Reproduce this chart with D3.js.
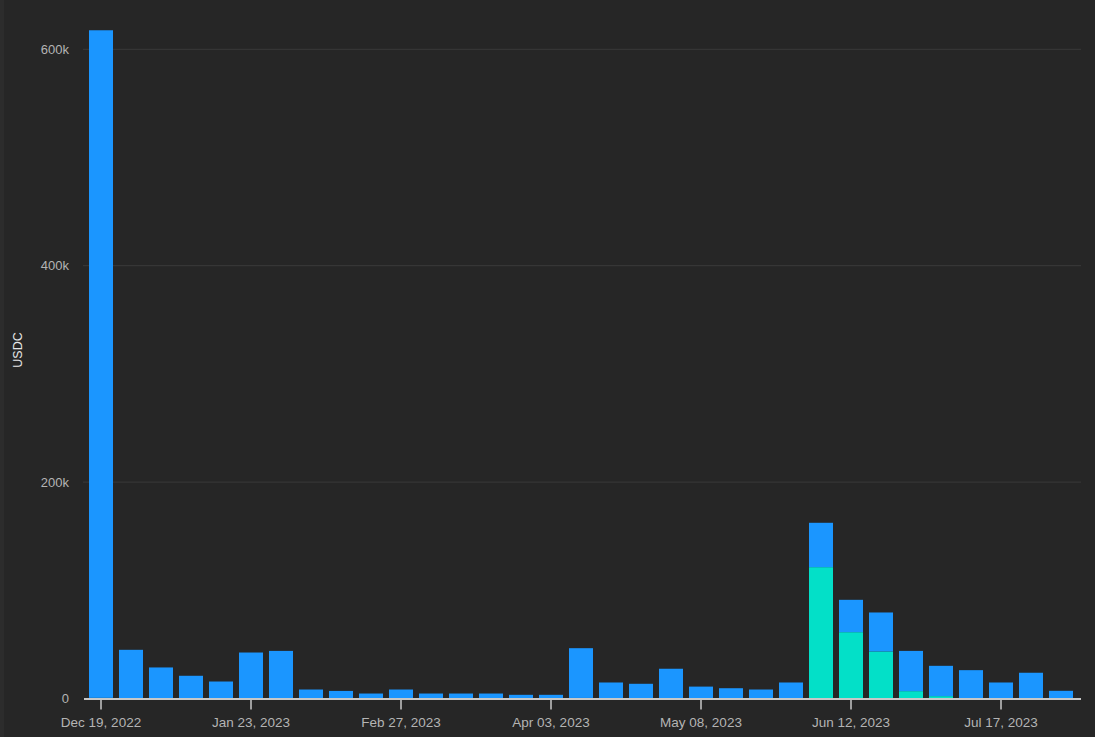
<!DOCTYPE html>
<html>
<head>
<meta charset="utf-8">
<script src="https://cdn.jsdelivr.net/npm/d3@7"></script>
<style>
  html, body { margin: 0; padding: 0; background: #262626; }
  svg { display: block; }
</style>
</head>
<body>
<svg id="chart" width="1095" height="737"></svg>
<script>
const weeks = ["2022-12-19","2022-12-26","2023-01-02","2023-01-09","2023-01-16","2023-01-23","2023-01-30",
  "2023-02-06","2023-02-13","2023-02-20","2023-02-27","2023-03-06","2023-03-13","2023-03-20","2023-03-27",
  "2023-04-03","2023-04-10","2023-04-17","2023-04-24","2023-05-01","2023-05-08","2023-05-15","2023-05-22",
  "2023-05-29","2023-06-05","2023-06-12","2023-06-19","2023-06-26","2023-07-03","2023-07-10","2023-07-17",
  "2023-07-24","2023-07-31"];
// teal series (bottom of stack)
const seriesA = [600,0,0,0,0,0,0,
  0,0,0,0,0,0,0,0,
  0,500,0,0,400,0,0,0,
  0,121400,61300,43500,6800,2200,0,0,
  0,0];
// blue series (top of stack)
const seriesB = [617000,45000,28700,21000,15700,42500,44000,
  8300,7000,4600,8300,4600,4600,4600,3400,
  3400,46000,14800,13600,27100,11000,9500,8300,
  14800,41000,29900,36000,37200,28000,26200,14800,
  23800,7100];
const yTicks = [0,200000,400000,600000];
const xTickLabels = ["Dec 19, 2022","Jan 23, 2023","Feb 27, 2023","Apr 03, 2023","May 08, 2023","Jun 12, 2023","Jul 17, 2023"];
const xTickWeeks = ["2022-12-19","2023-01-23","2023-02-27","2023-04-03","2023-05-08","2023-06-12","2023-07-17"];

const svg = d3.select("#chart");
const W = 1095, H = 737;
const m = {left: 86, right: 19, top: 20, bottom: 38.5};
const font = "Arial, 'Liberation Sans', sans-serif";

svg.append("rect").attr("width", W).attr("height", H).attr("fill", "#262626");
svg.append("rect").attr("width", 4).attr("height", H).attr("fill", "#2c2c2c");

const x = d3.scaleBand().domain(weeks).range([m.left, W - m.right]).paddingInner(0.2).paddingOuter(0.1);
const y = d3.scaleLinear().domain([0, 600000]).range([H - m.bottom, 49.3]);

// grid
svg.append("g").selectAll("line").data(yTicks.filter(d => d > 0)).join("line")
  .attr("x1", 83).attr("x2", 1081)
  .attr("y1", d => y(d)).attr("y2", d => y(d))
  .attr("stroke", "#3a3a3a").attr("stroke-width", 1);

// y labels
svg.append("g").selectAll("text").data(yTicks).join("text")
  .attr("x", 69).attr("y", d => y(d)).attr("dy", "0.35em")
  .attr("text-anchor", "end")
  .attr("fill", "#b4b4b4").attr("font-family", font).attr("font-size", 13)
  .text(d => d === 0 ? "0" : d3.format("~s")(d));

svg.append("text")
  .attr("transform", `translate(22,350) rotate(-90)`)
  .attr("text-anchor", "middle")
  .attr("fill", "#e6e6e6").attr("font-family", font).attr("font-size", 12.5)
  .text("USDC");

// stacked bars
const rows = weeks.map((w, i) => ({week: w, a: seriesA[i], b: seriesB[i]}));
const stack = d3.stack().keys(["a", "b"])(rows);
const colors = {a: "#03e0c8", b: "#1b96ff"};
svg.append("g").selectAll("g").data(stack).join("g")
  .attr("fill", d => colors[d.key])
  .selectAll("rect").data(d => d).join("rect")
  .attr("x", d => x(d.data.week))
  .attr("width", x.bandwidth())
  .attr("y", d => y(d[1]))
  .attr("height", d => Math.max(0, y(d[0]) - y(d[1])));

// x axis
const xAxis = svg.append("g").attr("transform", `translate(0,${H - m.bottom})`);
xAxis.append("line").attr("x1", 84).attr("x2", 1081).attr("y1", 0.5).attr("y2", 0.5)
  .attr("stroke", "#c8c8c8").attr("stroke-width", 2);
const tickG = xAxis.selectAll("g.tick").data(xTickWeeks).join("g")
  .attr("transform", d => `translate(${x(d) + x.bandwidth() / 2},0)`);
tickG.append("line").attr("y1", 1).attr("y2", 11).attr("stroke", "#c8c8c8").attr("stroke-width", 1.5);
tickG.append("text").attr("y", 28.5).attr("text-anchor", "middle")
  .attr("fill", "#b4b4b4").attr("font-family", font).attr("font-size", 13.5)
  .text((d, i) => xTickLabels[i]);
</script>
</body>
</html>
